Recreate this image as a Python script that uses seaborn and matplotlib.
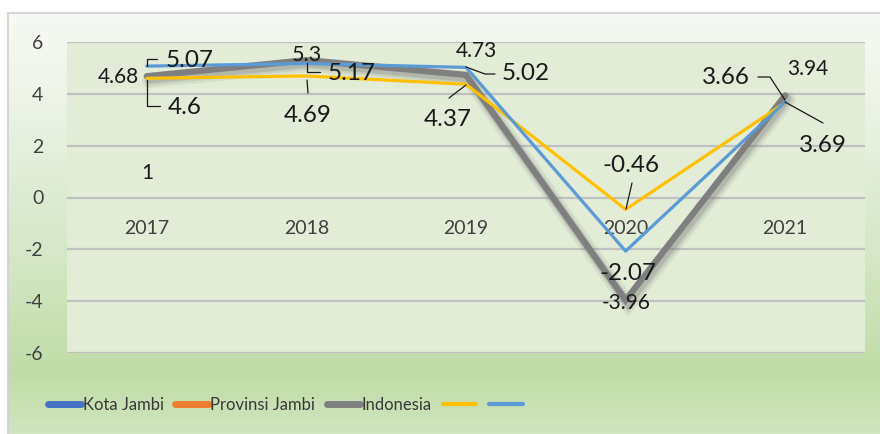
import numpy as np
import pandas as pd
import matplotlib
matplotlib.use("Agg")
import matplotlib.pyplot as plt
import seaborn as sns
from matplotlib.lines import Line2D
import matplotlib.patheffects as pe

# ---------------- data ----------------
years = ["2017", "2018", "2019", "2020", "2021"]
gray_series = [4.68, 5.3, 4.73, -3.96, 3.94]      # thick gray (Indonesia colour)
yellow_series = [4.6, 4.69, 4.37, -0.46, 3.66]
blue_series = [5.07, 5.17, 5.02, -2.07, 3.69]
legend_labels = ["Kota Jambi", "Provinsi Jambi", "Indonesia", "", ""]
y_ticks = [-6, -4, -2, 0, 2, 4, 6]
stray_label = "1"

# ---------------- style ----------------
sns.set_theme(style="white")
plt.rcParams["font.family"] = ["Lato", "DejaVu Sans"]

W, H = 880, 434
fig = plt.figure(figsize=(W / 100, H / 100), dpi=100, facecolor="white")


def fx(px):
    return px / W


def fy(py):
    return 1 - py / H


# chart-area gradient background
bg = fig.add_axes([fx(8), 0, 1 - fx(8), fy(13)])
stops_y = np.array([0, 90, 240, 360, 421])
stops_c = np.array([
    [0xF7, 0xF9, 0xF4],
    [0xEC, 0xF3, 0xE6],
    [0xD5, 0xE7, 0xC8],
    [0xC0, 0xDB, 0xA7],
    [0xD0, 0xE5, 0xC0],
]) / 255.0
ys = np.linspace(0, 421, 300)
grad = np.stack([np.interp(ys, stops_y, stops_c[:, k]) for k in range(3)], axis=-1)
grad = grad[:, None, :]
bg.imshow(grad, aspect="auto", extent=[0, 1, 0, 1], origin="upper")
bg.set_xticks([])
bg.set_yticks([])
for s in ["right", "bottom"]:
    bg.spines[s].set_visible(False)
for s in ["left", "top"]:
    bg.spines[s].set_color("#D0D0D0")
    bg.spines[s].set_linewidth(1.2)

# plot area
ax = fig.add_axes([fx(67), fy(353), fx(865) - fx(67), fy(42) - fy(353)])
ax.set_facecolor("#E2ECD7")
ax.set_xlim(-0.5, len(years) - 0.5)
ax.set_ylim(min(y_ticks), max(y_ticks))
for s in ax.spines.values():
    s.set_visible(False)
ax.set_yticks(y_ticks)
ax.set_yticklabels([str(t) for t in y_ticks], fontsize=14, color="#404040")
ax.tick_params(axis="y", length=0, pad=17)
ax.set_xticks([])
for t in y_ticks:
    ax.axhline(t, color="#C0C0C0", lw=1.6, zorder=1)

xpos = np.arange(len(years))

shadow = [
    pe.SimpleLineShadow(offset=(2, -3), shadow_color="#707070", alpha=0.10, linewidth=11),
    pe.SimpleLineShadow(offset=(2, -3), shadow_color="#707070", alpha=0.15, linewidth=7.5),
    pe.SimpleLineShadow(offset=(1.5, -2.5), shadow_color="#606060", alpha=0.2, linewidth=5.5),
    pe.Normal(),
]
sns.lineplot(x=xpos, y=gray_series, ax=ax, color="#7F7F7F", lw=4.5, zorder=3,
             legend=False, path_effects=shadow, solid_joinstyle="miter", solid_capstyle="round")
sns.lineplot(x=xpos, y=yellow_series, ax=ax, color="#FFC000", lw=2.3, zorder=4, legend=False)
sns.lineplot(x=xpos, y=blue_series, ax=ax, color="#5B9BD5", lw=2.3, zorder=5, legend=False)

# category labels
for x, yr in zip(xpos, years):
    ax.text(x, -1.19, yr, ha="center", va="center", fontsize=14, color="#404040")

# data labels (positions in reference pixels)
big, small = 17.5, 15
labels = [
    (blue_series[0], (190, 60), big), (gray_series[0], (118, 77), small), (yellow_series[0], (185, 108), big),
    (gray_series[1], (307, 55), small + 0.5), (blue_series[1], (352, 74), big), (yellow_series[1], (308, 115), big),
    (gray_series[2], (476, 51), small), (blue_series[2], (526, 74), big), (yellow_series[2], (448, 119), big),
    (yellow_series[3], (631, 165), big), (blue_series[3], (628, 274), big), (gray_series[3], (626, 303), small),
    (yellow_series[4], (726, 78), big), (gray_series[4], (808, 69), small), (blue_series[4], (823, 145), big),
]
for val, (px, py), fs in labels:
    fig.text(fx(px), fy(py), f"{val:g}", ha="center", va="center", fontsize=fs, color="#1A1A1A", zorder=10)
fig.text(fx(147), fy(173), stray_label, ha="center", va="center", fontsize=15, color="#1A1A1A")

leaders = [
    [(147, 66), (147, 59), (157, 59)],
    [(147, 80), (147, 106), (160, 106)],
    [(307, 63), (307, 72), (320, 72)],
    [(307, 80), (308, 93)],
    [(466, 67), (485, 74), (495, 74)],
    [(466, 85), (449, 98)],
    [(626, 209), (632, 183)],
    [(785, 100), (770, 77), (758, 77)],
    [(785, 102), (823, 123)],
]
for path in leaders:
    xs = [fx(p[0]) for p in path]
    ys_ = [fy(p[1]) for p in path]
    fig.add_artist(Line2D(xs, ys_, color="#1A1A1A", lw=0.9, zorder=11))

# legend
handles = [
    Line2D([0], [0], color="#4472C4", lw=5, solid_capstyle="round"),
    Line2D([0], [0], color="#ED7D31", lw=5, solid_capstyle="round"),
    Line2D([0], [0], color="#7F7F7F", lw=5, solid_capstyle="round"),
    Line2D([0], [0], color="#FFC000", lw=3),
    Line2D([0], [0], color="#5B9BD5", lw=3),
]
leg = fig.legend(handles, legend_labels, loc="center left", bbox_to_anchor=(fx(48), fy(405)),
                 ncol=5, frameon=False, handlelength=2.0, handletextpad=0.08,
                 columnspacing=0.7, borderpad=0, borderaxespad=0,
                 prop={"family": ["Lato", "DejaVu Sans"], "size": 12})
for t in leg.get_texts():
    t.set_color("#383838")

fig.savefig("out.png", dpi=100, facecolor="white")
